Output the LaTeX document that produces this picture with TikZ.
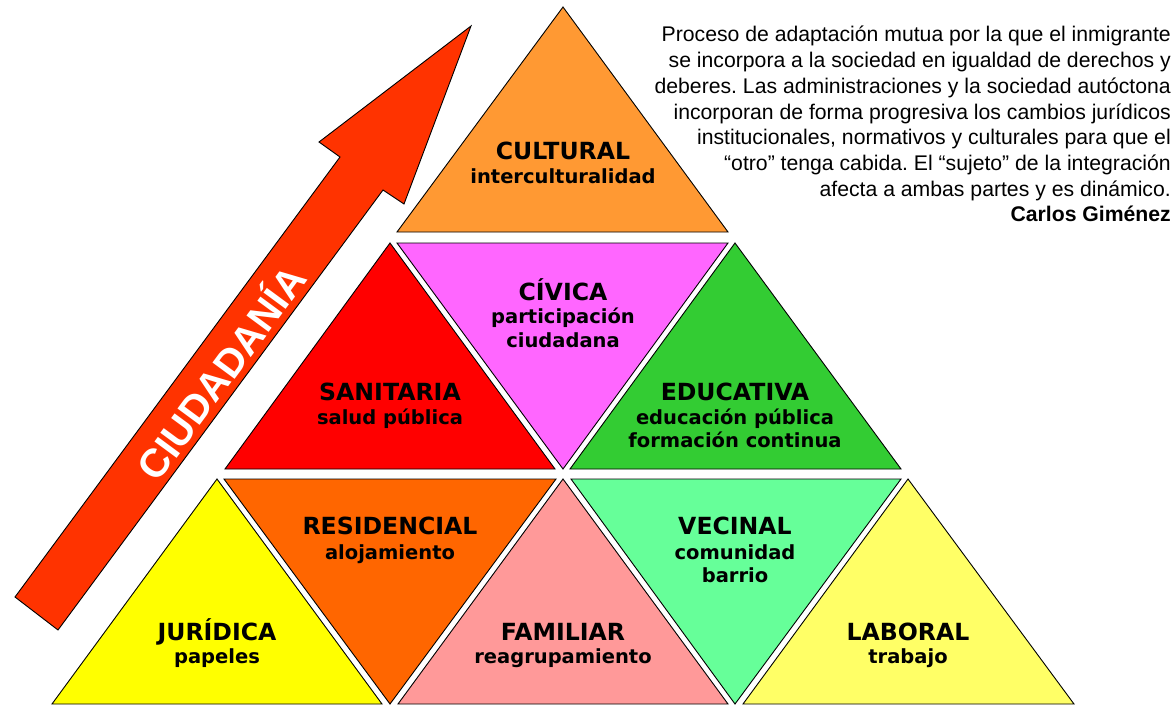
\documentclass[tikz,border=0pt]{standalone}
\usepackage{fontspec}
\setmainfont{Liberation Sans}
\newfontfamily\vfont{DejaVu Sans}
\definecolor{cCult}{RGB}{255,153,51}
\definecolor{cCiv}{RGB}{255,102,255}
\definecolor{cSan}{RGB}{255,0,0}
\definecolor{cEdu}{RGB}{51,204,51}
\definecolor{cRes}{RGB}{255,102,0}
\definecolor{cFam}{RGB}{255,153,153}
\definecolor{cVec}{RGB}{102,255,153}
\definecolor{cJur}{RGB}{255,255,0}
\definecolor{cLab}{RGB}{255,255,102}
\definecolor{cArr}{RGB}{255,51,0}
\tikzset{
  tri/.style={draw=black, line width=0.9pt, line join=miter},
  ttl/.style={anchor=base, inner sep=0pt, font=\vfont\bfseries\fontsize{23.6}{26}\selectfont},
  sub/.style={anchor=base, inner sep=0pt, font=\vfont\bfseries\fontsize{19.5}{22}\selectfont},
  quote/.style={anchor=base east, inner sep=0pt, font=\frenchspacing\fontsize{21.2}{24}\selectfont},
}
\begin{document}
\begin{tikzpicture}[x=1pt,y=-1pt]
\useasboundingbox (0,0) rectangle (1176,706);
% arrow
\fill[cArr, draw=black, line width=0.9pt, line join=miter]
  (15,597) -- (340,157) -- (319,142) -- (471,26) -- (404,204) -- (383,190) -- (58,630) -- cycle;
\node[rotate=53.6, text=white, inner sep=0pt, font=\bfseries\fontsize{40}{42}\selectfont] (ciud) at (219,371) {CIUDADANÍA};
% row 1
\filldraw[tri, fill=cCult] (563,7) -- (397,232) -- (728,232) -- cycle;
% row 2
\filldraw[tri, fill=cSan] (390,243) -- (225,469) -- (555,469) -- cycle;
\filldraw[tri, fill=cCiv] (397,243) -- (728,243) -- (563,469) -- cycle;
\filldraw[tri, fill=cEdu] (735,243) -- (570,469) -- (901,469) -- cycle;
% row 3
\filldraw[tri, fill=cJur] (217,479) -- (52,704) -- (382,704) -- cycle;
\filldraw[tri, fill=cRes] (224,479) -- (556,479) -- (390,704) -- cycle;
\filldraw[tri, fill=cFam] (563,479) -- (398,704) -- (728,704) -- cycle;
\filldraw[tri, fill=cVec] (571,479) -- (901,479) -- (735,704) -- cycle;
\filldraw[tri, fill=cLab] (908,479) -- (743,704) -- (1074,704) -- cycle;
% labels
\node[ttl] (cultT) at (563,160) {CULTURAL};
\node[sub] (cultS) at (563,183) {interculturalidad};
\node[ttl] (civT) at (563,300) {CÍVICA};
\node[sub] (civS1) at (563,323) {participación};
\node[sub] (civS2) at (563,347) {ciudadana};
\node[ttl] (sanT) at (390,400) {SANITARIA};
\node[sub] (sanS) at (390,424) {salud pública};
\node[ttl] (eduT) at (735,400) {EDUCATIVA};
\node[sub] (eduS1) at (735,424) {educación pública};
\node[sub] (eduS2) at (735,447) {formación continua};
\node[ttl] (resT) at (390,534) {RESIDENCIAL};
\node[sub] (resS) at (390,559) {alojamiento};
\node[ttl] (vecT) at (735,534) {VECINAL};
\node[sub] (vecS1) at (735,559) {comunidad};
\node[sub] (vecS2) at (735,582) {barrio};
\node[ttl] (jurT) at (217,640) {JURÍDICA};
\node[sub] (jurS) at (217,663) {papeles};
\node[ttl] (famT) at (563,640) {FAMILIAR};
\node[sub] (famS) at (563,663) {reagrupamiento};
\node[ttl] (labT) at (908,640) {LABORAL};
\node[sub] (labS) at (908,663) {trabajo};
% quote
\foreach \t [count=\i] in {
  {Proceso de adaptación mutua por la que el inmigrante},
  {se incorpora a la sociedad en igualdad de derechos y},
  {deberes. Las administraciones y la sociedad autóctona},
  {incorporan de forma progresiva los cambios jurídicos},
  {institucionales, normativos y culturales para que el},
  {“otro” tenga cabida. El “sujeto” de la integración},
  {afecta a ambas partes y es dinámico.}}
  \node[quote] (q\i) at (1171,{42+25.7*(\i-1)}) {\t};
\node[quote, font=\bfseries\fontsize{21.2}{24}\selectfont] (author) at (1171,222) {Carlos Giménez};
\end{tikzpicture}
\end{document}
